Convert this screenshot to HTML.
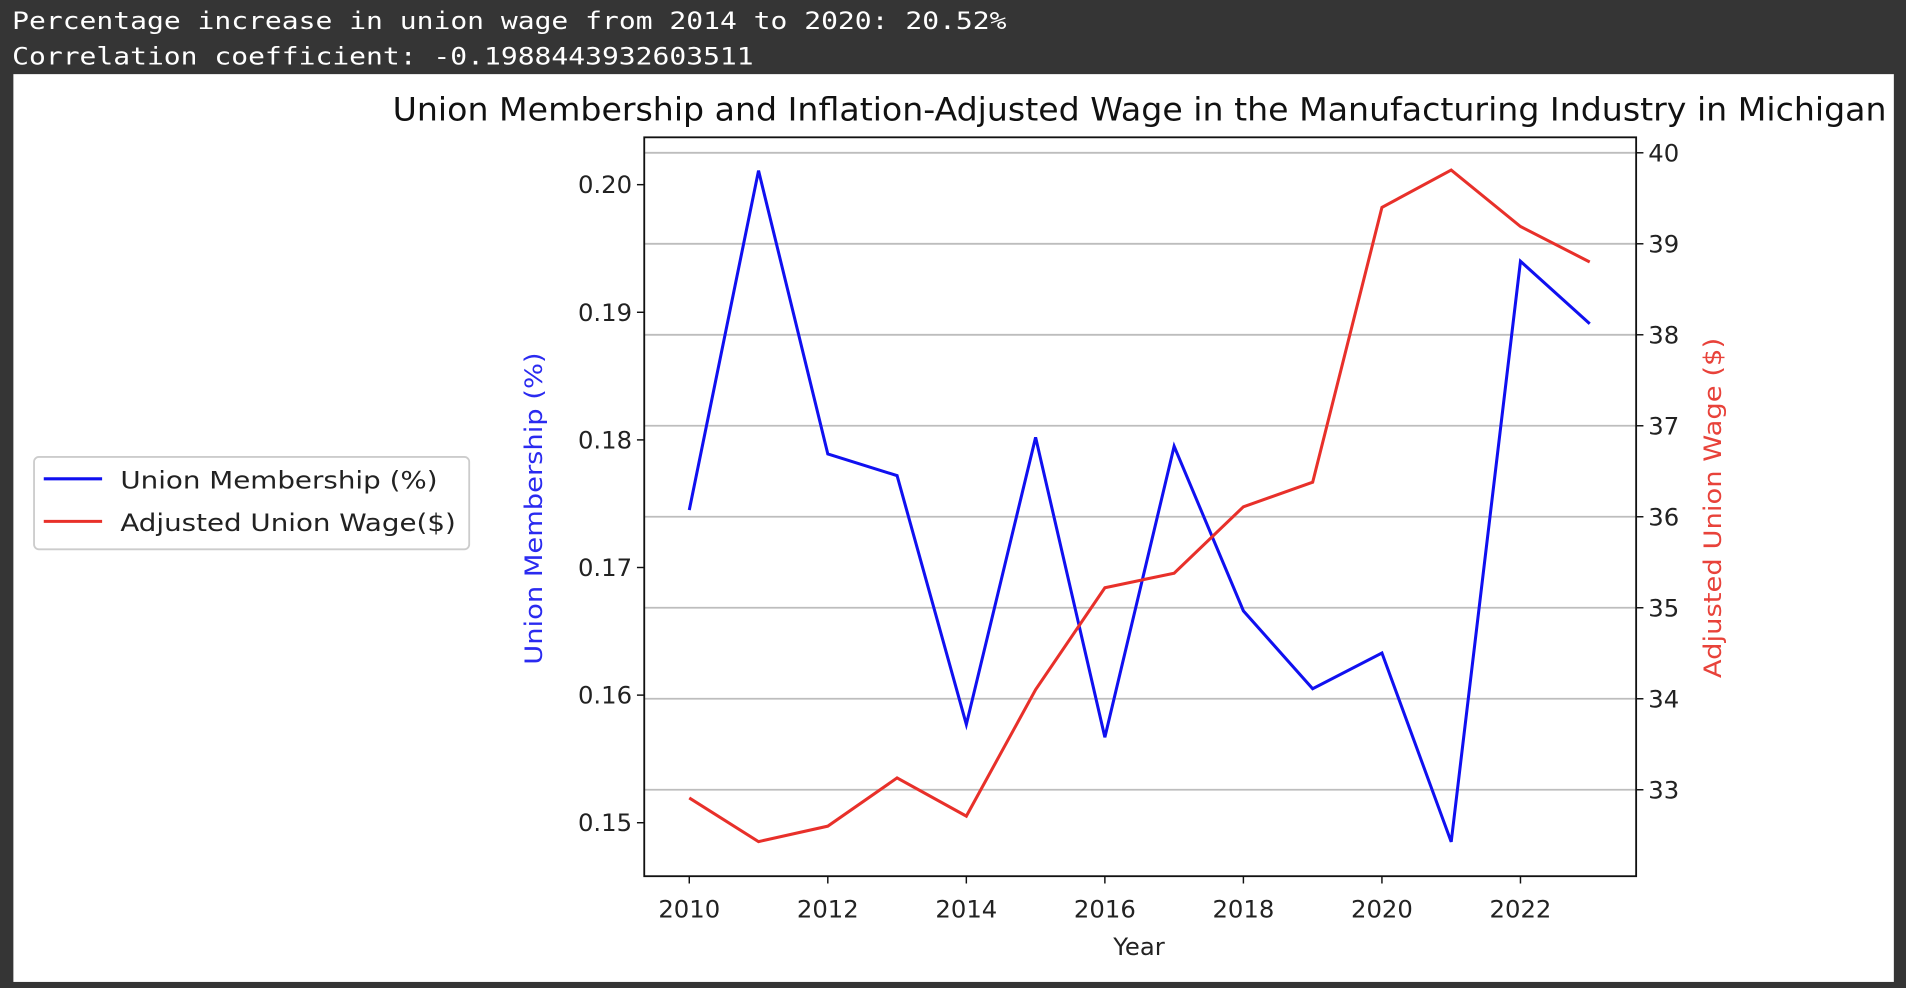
<!DOCTYPE html>
<html><head><meta charset="utf-8"><style>
html,body{margin:0;padding:0;background:#353535;width:1906px;height:988px;overflow:hidden}
svg{display:block}
text{font-family:"DejaVu Sans","Liberation Sans",sans-serif}
</style></head><body>
<svg width="1906" height="988" viewBox="0 0 1568 813" preserveAspectRatio="none">
<rect x="0" y="0" width="1568" height="813" fill="#353535"/>
<text x="10" y="24" font-size="20" fill="#fff" textLength="818" lengthAdjust="spacingAndGlyphs" style="font-family:'DejaVu Sans Mono','Liberation Mono',monospace">Percentage increase in union wage from 2014 to 2020: 20.52%</text>
<text x="10" y="53" font-size="20" fill="#fff" textLength="610" lengthAdjust="spacingAndGlyphs" style="font-family:'DejaVu Sans Mono','Liberation Mono',monospace">Correlation coefficient: -0.1988443932603511</text>
<rect x="11" y="61" width="1547" height="747" fill="#fff"/>
<text x="323" y="99" font-size="26" fill="#111" textLength="1229" lengthAdjust="spacingAndGlyphs">Union Membership and Inflation-Adjusted Wage in the Manufacturing Industry in Michigan</text>
<g id="grid"></g>
<g id="lines"></g>
<rect x="530" y="113" width="816" height="608" fill="none" stroke="#111" stroke-width="1.5"/>
<g id="axes"></g>
<text x="937" y="786" font-size="20" text-anchor="middle" fill="#222">Year</text>
<text transform="translate(446,547) rotate(-90)" font-size="20" fill="#2a2af0" textLength="257" lengthAdjust="spacingAndGlyphs">Union Membership (%)</text>
<text transform="translate(1416,558) rotate(-90)" font-size="20" fill="#e8423a" textLength="280" lengthAdjust="spacingAndGlyphs">Adjusted Union Wage ($)</text>
<g>
<rect x="28" y="376" width="358" height="76" rx="4" fill="#fff" stroke="#ccc" stroke-width="1.5"/>
<line x1="36" y1="394" x2="84" y2="394" stroke="#1010f0" stroke-width="2.5"/>
<text x="99" y="402" font-size="20" fill="#222" textLength="261" lengthAdjust="spacingAndGlyphs">Union Membership (%)</text>
<line x1="36" y1="429" x2="84" y2="429" stroke="#e8302a" stroke-width="2.5"/>
<text x="99" y="437" font-size="20" fill="#222" textLength="276" lengthAdjust="spacingAndGlyphs">Adjusted Union Wage($)</text>
</g>
</svg>
<script>
const years=[2010,2011,2012,2013,2014,2015,2016,2017,2018,2019,2020,2021,2022,2023];
const membership=[0.1745,0.2011,0.1789,0.1772,0.1577,0.1802,0.1567,0.1795,0.1666,0.1605,0.1633,0.1485,0.1940,0.1891];
const wage=[32.91,32.43,32.60,33.13,32.71,34.10,35.22,35.38,36.11,36.38,39.40,39.81,39.19,38.80];
const xTicks=[2010,2012,2014,2016,2018,2020,2022];
const leftTicks=[0.15,0.16,0.17,0.18,0.19,0.20];
const rightTicks=[33,34,35,36,37,38,39,40];
const NS="http://www.w3.org/2000/svg";
const L=530,R=1346,T=113,B=721;
const xMin=2009.35,xMax=2023.67,lMin=0.14581,lMax=0.20371,rMin=32.05,rMax=40.17;
const xs=v=>L+(v-xMin)/(xMax-xMin)*(R-L);
const yl=v=>B-(v-lMin)/(lMax-lMin)*(B-T);
const yr=v=>B-(v-rMin)/(rMax-rMin)*(B-T);
function mk(tag,attrs,parent){const e=document.createElementNS(NS,tag);for(const k in attrs)e.setAttribute(k,attrs[k]);parent.appendChild(e);return e;}
const grid=document.getElementById('grid'),axes=document.getElementById('axes'),lines=document.getElementById('lines');
rightTicks.forEach(v=>{
  const g=mk('line',{x1:L,x2:R,y1:yr(v),y2:yr(v),stroke:'#bdbdbd','stroke-width':1.5},grid);
  
  
  const t=mk('line',{x1:R,x2:R+6,y1:yr(v),y2:yr(v),stroke:'#111','stroke-width':1.2},axes);
  
  
  const tx=mk('text',{x:R+10,y:yr(v)+7,'font-size':20,fill:'#222'},axes);tx.textContent=v;
  
  
});
leftTicks.forEach(v=>{
  const t=mk('line',{x1:L-6,x2:L,y1:yl(v),y2:yl(v),stroke:'#111','stroke-width':1.2},axes);
  
  
  const tx=mk('text',{x:L-10,y:yl(v)+7,'font-size':20,fill:'#222','text-anchor':'end'},axes);tx.textContent=v.toFixed(2);
  
  
});
xTicks.forEach(v=>{
  const t=mk('line',{x1:xs(v),x2:xs(v),y1:B,y2:B+6,stroke:'#111','stroke-width':1.2},axes);
  
  
  const tx=mk('text',{x:xs(v),y:B+34,'font-size':20,fill:'#222','text-anchor':'middle'},axes);tx.textContent=v;
  
  
});
const pb=mk('polyline',{points:years.map((y,i)=>xs(y)+','+yl(membership[i])).join(' '),fill:'none',stroke:'#1010f0','stroke-width':2.5},lines);


const pr=mk('polyline',{points:years.map((y,i)=>xs(y)+','+yr(wage[i])).join(' '),fill:'none',stroke:'#e8302a','stroke-width':2.5},lines);


</script>
</body></html>
